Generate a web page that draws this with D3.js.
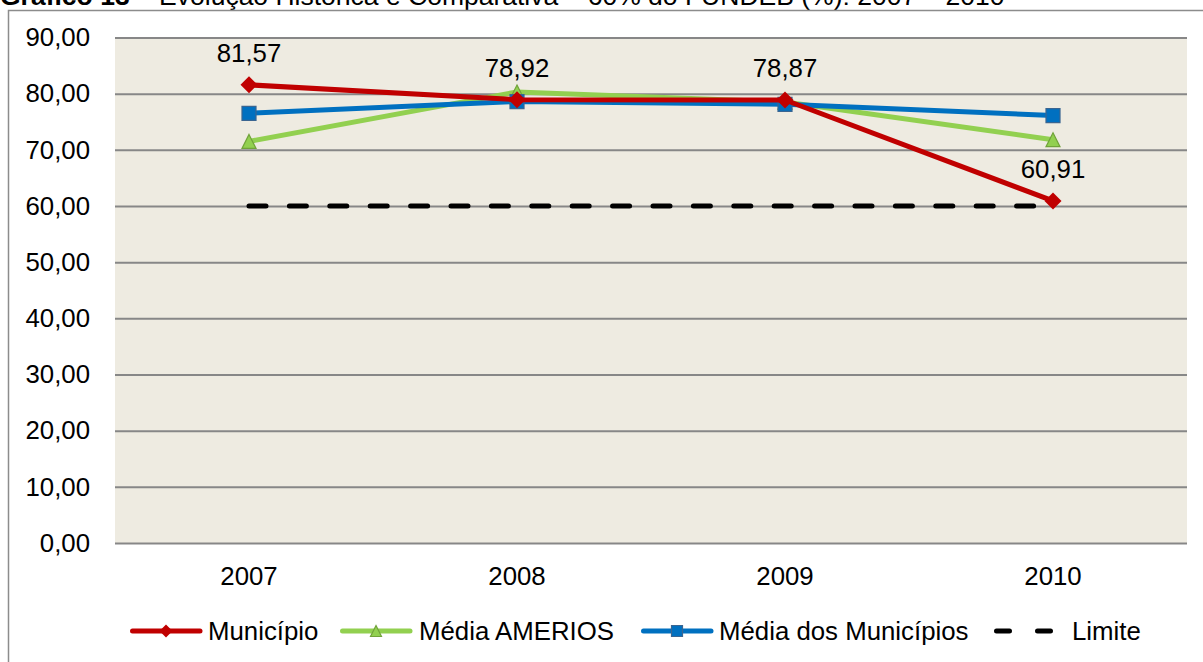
<!DOCTYPE html>
<html>
<head>
<meta charset="utf-8">
<script src="https://cdn.jsdelivr.net/npm/d3@7"></script>
<style>
  body { margin: 0; background: #fff; }
  svg { display: block; font-family: "Liberation Sans", Arial, sans-serif; }
</style>
</head>
<body>
<svg id="chart" width="1203" height="662"></svg>
<script>
// chart data
var years = ["2007", "2008", "2009", "2010"];
var municipio = [81.57, 78.92, 78.87, 60.91];
var mediaAmerios = [71.5, 80.3, 78.5, 71.8];
var mediaMunicipios = [76.5, 78.6, 78.1, 76.1];
var limite = [60, 60, 60, 60];
var yTicks = [0, 10, 20, 30, 40, 50, 60, 70, 80, 90];

var series = [
  { name: "Município", values: municipio, color: "#C00000", marker: "diamond", labels: true },
  { name: "Média AMERIOS", values: mediaAmerios, color: "#92D050", stroke: "#71A33A", marker: "triangle" },
  { name: "Média dos Municípios", values: mediaMunicipios, color: "#0070C0", stroke: "#3A6591", marker: "square" },
  { name: "Limite", values: limite, color: "#000", dashed: true }
];

var ptBR = d3.formatLocale({ decimal: ",", thousands: ".", grouping: [3], currency: ["R$", ""] });
var fmt = ptBR.format(".2f");
var fontSize = "25.8px";

var svg = d3.select("#chart");
var plot = { left: 115, right: 1187, top: 37.5, bottom: 543 };

// title (cut off at the top in the original)
var title = svg.append("text").attr("x", 0).attr("y", 5).style("font-size", "26.5px").attr("fill", "#000");
title.append("tspan").style("font-weight", "bold").text("Gráfico 13");
title.append("tspan").text(" – Evolução Histórica e Comparativa – 60% do FUNDEB (%): 2007 – 2010");

// outer frame
svg.append("rect")
  .attr("x", 8.5).attr("y", 10.5)
  .attr("width", 1220).attr("height", 700)
  .attr("fill", "none").attr("stroke", "#8c8c8c").attr("stroke-width", 1.5);

var x = d3.scaleBand().domain(years).range([plot.left, plot.right]);
var y = d3.scaleLinear().domain([0, 90]).range([plot.bottom, plot.top]);
var cx = function (d) { return x(d) + x.bandwidth() / 2; };

svg.append("rect")
  .attr("x", plot.left).attr("y", plot.top)
  .attr("width", plot.right - plot.left).attr("height", plot.bottom - plot.top)
  .attr("fill", "#EEEBE1");

// gridlines
var grid = svg.append("g")
  .attr("transform", "translate(" + plot.left + ",0)")
  .call(d3.axisLeft(y).tickValues(yTicks).tickSize(-(plot.right - plot.left)).tickFormat(""));
grid.select(".domain").remove();
grid.selectAll("line").attr("stroke", "#878787").attr("stroke-width", 2);

// y labels
var yAxis = svg.append("g")
  .attr("transform", "translate(90,0)")
  .call(d3.axisLeft(y).tickValues(yTicks).tickSize(0).tickPadding(0).tickFormat(fmt));
yAxis.select(".domain").remove();
yAxis.selectAll("text").style("font-size", fontSize).attr("fill", "#000").attr("font-family", null);

// x labels
var xAxis = svg.append("g")
  .attr("transform", "translate(0," + plot.bottom + ")")
  .call(d3.axisBottom(x).tickSize(0).tickPadding(24));
xAxis.select(".domain").remove();
xAxis.selectAll("text").style("font-size", fontSize).attr("fill", "#000").attr("font-family", null);

var line = d3.line()
  .x(function (d) { return cx(d.year); })
  .y(function (d) { return y(d.value); });

function markerPath(type, s) {
  if (type === "diamond") return "M0," + (-s) + "L" + s + ",0L0," + s + "L" + (-s) + ",0Z";
  if (type === "triangle") return "M0," + (-s) + "L" + s + "," + s + "L" + (-s) + "," + s + "Z";
  if (type === "square") return "M" + (-s) + "," + (-s) + "H" + s + "V" + s + "H" + (-s) + "Z";
  return "";
}

function drawMarker(g, s, size) {
  g.append("path")
    .attr("d", markerPath(s.marker, size))
    .attr("fill", s.color)
    .attr("stroke", s.stroke || s.color)
    .attr("stroke-width", s.stroke ? 1.2 : 0);
}

// draw series: Limite first (behind), then the others so Município is on top
var drawOrder = [3, 1, 2, 0];
drawOrder.forEach(function (i) {
  var s = series[i];
  var pts = years.map(function (yr, j) { return { year: yr, value: s.values[j] }; });
  var g = svg.append("g");
  g.append("path")
    .datum(pts)
    .attr("d", line)
    .attr("fill", "none")
    .attr("stroke", s.color)
    .attr("stroke-width", 5)
    .attr("stroke-linecap", "round")
    .attr("stroke-linejoin", "round")
    .attr("stroke-dasharray", s.dashed ? "17 23.4" : null);
  if (s.marker) {
    pts.forEach(function (p) {
      var m = g.append("g").attr("transform", "translate(" + cx(p.year) + "," + y(p.value) + ")");
      drawMarker(m, s, s.marker === "diamond" ? 8.5 : 7);
    });
  }
  if (s.labels) {
    g.selectAll("text.lbl").data(pts).enter().append("text")
      .attr("x", function (d) { return cx(d.year); })
      .attr("y", function (d) { return y(d.value) - 23; })
      .attr("text-anchor", "middle")
      .style("font-size", fontSize)
      .text(function (d) { return fmt(d.value); });
  }
});

// legend
var legendItems = [
  { s: series[0], lx: 130, tx: 208 },
  { s: series[1], lx: 340, tx: 419 },
  { s: series[2], lx: 641, tx: 719 },
  { s: series[3], lx: 994, tx: 1072 }
];
var ly = 631;
var legend = svg.append("g");
legendItems.forEach(function (it) {
  var g = legend.append("g");
  if (it.s.dashed) {
    g.append("line")
      .attr("x1", it.lx + 2.5).attr("x2", it.lx + 61).attr("y1", ly).attr("y2", ly)
      .attr("stroke", it.s.color).attr("stroke-width", 5)
      .attr("stroke-linecap", "round").attr("stroke-dasharray", "13 28");
  } else {
    g.append("line")
      .attr("x1", it.lx + 2.5).attr("x2", it.lx + 70).attr("y1", ly).attr("y2", ly)
      .attr("stroke", it.s.color).attr("stroke-width", 5).attr("stroke-linecap", "round");
    var m = g.append("g").attr("transform", "translate(" + (it.lx + 36) + "," + ly + ")");
    drawMarker(m, it.s, it.s.marker === "diamond" ? 6.5 : 5.5);
  }
  g.append("text")
    .attr("x", it.tx).attr("y", ly + 9)
    .style("font-size", fontSize)
    .text(it.s.name);
});
</script>
</body>
</html>
